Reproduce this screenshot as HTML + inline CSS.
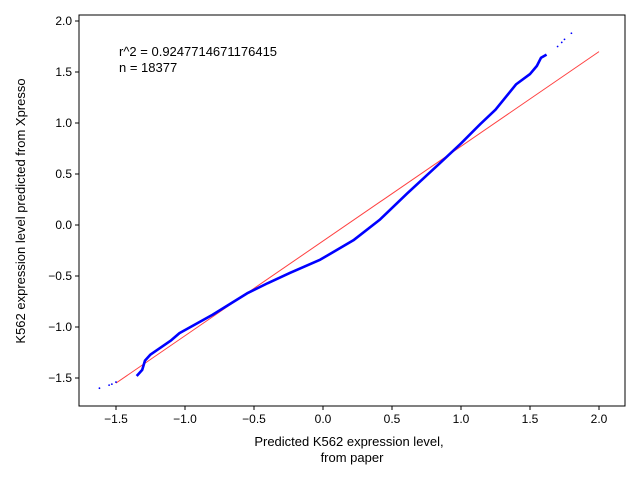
<!DOCTYPE html>
<html><head><meta charset="utf-8"><style>
body{margin:0;background:#fff;}
svg{font-family:"Liberation Sans","DejaVu Sans",sans-serif;}
</style></head><body>
<svg id="c" width="640" height="480"></svg>
<script>
const xTicks=[-1.5,-1.0,-0.5,0.0,0.5,1.0,1.5,2.0];
const yTicks=[-1.5,-1.0,-0.5,0.0,0.5,1.0,1.5,2.0];
const curveX=[-1.35,-1.31,-1.29,-1.25,-1.1,-1.04,-0.8,-0.55,-0.4,-0.24,-0.02,0.22,0.41,0.61,0.85,1.0,1.14,1.25,1.4,1.5,1.55,1.58,1.62];
const curveY=[-1.48,-1.42,-1.33,-1.27,-1.13,-1.06,-0.88,-0.67,-0.57,-0.47,-0.34,-0.15,0.05,0.31,0.61,0.8,0.99,1.13,1.38,1.48,1.56,1.64,1.67];
const outX=[-1.62,-1.55,-1.53,-1.5,1.7,1.73,1.75,1.8];
const outY=[-1.6,-1.57,-1.56,-1.54,1.75,1.79,1.82,1.88];
const lineX=[-1.5,2.0];
const lineY=[-1.55,1.70];
const L=79,R=625,T=15,B=406;
const sx=v=>323+v*138, sy=v=>225-v*102;
const s=document.getElementById('c');const NS='http://www.w3.org/2000/svg';
function mk(t,a,p){const e=document.createElementNS(NS,t);for(const k in a)e.setAttribute(k,a[k]);(p||s).appendChild(e);return e;}
let e;
xTicks.forEach(v=>{const x=sx(v);mk('line',{x1:x,x2:x,y1:B,y2:B+4,stroke:'#000'});
e=mk('text',{x:x,y:B+17,'text-anchor':'middle','font-size':12});e.textContent=(v<0?'\u2212':'')+Math.abs(v).toFixed(1);

});
yTicks.forEach(v=>{const y=sy(v);mk('line',{x1:L-4,x2:L,y1:y,y2:y,stroke:'#000'});
e=mk('text',{x:L-7,y:y+4,'text-anchor':'end','font-size':12});e.textContent=(v<0?'\u2212':'')+Math.abs(v).toFixed(1);

});
e=mk('line',{x1:sx(lineX[0]),y1:sy(lineY[0]),x2:sx(lineX[1]),y2:sy(lineY[1]),stroke:'#ff0000','stroke-opacity':0.75,'stroke-width':1});


e=mk('polyline',{points:curveX.map((v,i)=>sx(v)+','+sy(curveY[i])).join(' '),fill:'none',stroke:'#0000ff','stroke-width':2.6,'stroke-linejoin':'round'});


outX.forEach((v,i)=>{e=mk('circle',{cx:sx(v),cy:sy(outY[i]),r:0.9,fill:'#0000ff'});

});
e=mk('rect',{x:L,y:T,width:R-L,height:B-T,fill:'none',stroke:'#000'});


e=mk('text',{x:119,y:56,'font-size':13});e.textContent='r^2 = 0.9247714671176415';


e=mk('text',{x:119,y:72,'font-size':13});e.textContent='n = 18377';


e=mk('text',{x:349,y:446,'text-anchor':'middle','font-size':13});e.textContent='Predicted K562 expression level,';


e=mk('text',{x:352,y:462,'text-anchor':'middle','font-size':13});e.textContent='from paper';


e=mk('text',{x:25,y:211,'text-anchor':'middle','font-size':13,transform:'rotate(-90 25 211)'});e.textContent='K562 expression level predicted from Xpresso';


</script>
</body></html>
